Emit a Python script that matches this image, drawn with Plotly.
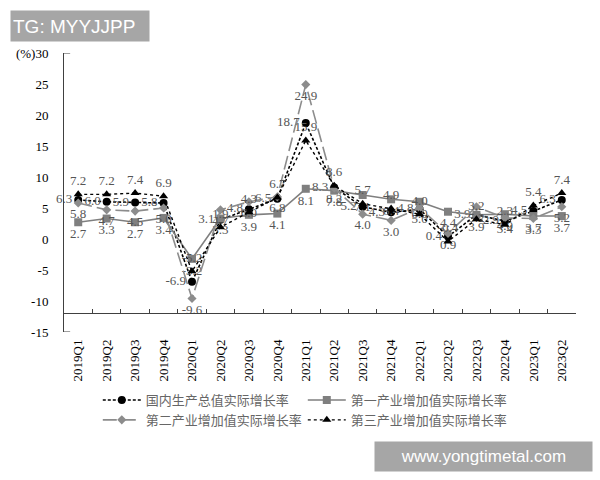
import plotly.graph_objects as go

quarters = ["2019Q1", "2019Q2", "2019Q3", "2019Q4",
            "2020Q1", "2020Q2", "2020Q3", "2020Q4",
            "2021Q1", "2021Q2", "2021Q3", "2021Q4",
            "2022Q1", "2022Q2", "2022Q3", "2022Q4",
            "2023Q1", "2023Q2"]

gdp = [6.3, 6.0, 5.9, 5.8, -6.9, 3.1, 4.8, 6.5, 18.7, 8.3, 5.2, 4.3,
       4.8, 0.4, 3.9, 2.9, 4.5, 6.3]
primary = [2.7, 3.3, 2.7, 3.4, -3.2, 3.3, 3.9, 4.1, 8.1, 7.8, 7.1, 6.4,
           6.0, 4.4, 3.9, 4.0, 3.7, 3.7]
secondary = [5.8, 4.7, 4.5, 5.0, -9.6, 4.7, 6.0, 6.8, 24.9, 8.2, 4.0, 3.0,
             5.0, 0.9, 5.2, 3.4, 3.3, 5.2]
tertiary = [7.2, 7.2, 7.4, 6.9, -5.2, 1.9, 4.3, 6.7, 15.9, 8.6, 5.7, 4.9,
            4.0, -0.4, 3.2, 2.3, 5.4, 7.4]

names = ["国内生产总值实际增长率", "第一产业增加值实际增长率",
         "第二产业增加值实际增长率", "第三产业增加值实际增长率"]

ytick_vals = [30, 25, 20, 15, 10, 5, 0, -5, -10, -15]
ytick_text = ["(%)30", "25", "20", "15", "10", "5", "0", "-5", "-10", "-15"]

label_font = dict(family="Liberation Serif, Times New Roman, serif", size=13, color="#555555")

fig = go.Figure()
fig.add_trace(go.Scatter(
    x=quarters, y=gdp, name=names[0], mode="lines+markers+text", cliponaxis=False,
    line=dict(color="#000000", width=1.6, dash="3px,2px"),
    marker=dict(symbol="circle", size=8, color="#000000"),
    text=[f"{v:.1f}" for v in gdp], textposition="middle left", textfont=label_font))
fig.add_trace(go.Scatter(
    x=quarters, y=primary, name=names[1], mode="lines+markers+text", cliponaxis=False,
    line=dict(color="#7f7f7f", width=1.6),
    marker=dict(symbol="square", size=8, color="#7f7f7f"),
    text=[f"{v:.1f}" for v in primary], textposition="bottom center", textfont=label_font))
fig.add_trace(go.Scatter(
    x=quarters, y=secondary, name=names[2], mode="lines+markers+text", cliponaxis=False,
    line=dict(color="#8c8c8c", width=1.6, dash="14px,5px"),
    marker=dict(symbol="diamond", size=7, color="#8c8c8c"),
    text=[f"{v:.1f}" for v in secondary], textposition="bottom center", textfont=label_font))
fig.add_trace(go.Scatter(
    x=quarters, y=tertiary, name=names[3], mode="lines+markers+text", cliponaxis=False,
    line=dict(color="#000000", width=1.4, dash="dot"),
    marker=dict(symbol="triangle-up", size=8, color="#000000"),
    text=[f"{v:.1f}" for v in tertiary], textposition="top center", textfont=label_font))

fig.update_layout(
    width=600, height=480,
    margin=dict(l=64, r=24, t=53, b=148, autoexpand=False),
    paper_bgcolor="white", plot_bgcolor="white",
    showlegend=True,
    legend=dict(orientation="h", x=0.066, y=-0.19, xanchor="left", yanchor="top",
                entrywidth=152, entrywidthmode="pixels",
                font=dict(family="Noto Sans CJK SC, sans-serif", size=13, color="#666666"),
                tracegroupgap=0, itemwidth=38),
    xaxis=dict(type="category", anchor="free", position=3 / 45, range=[-0.5, 17.5],
               showline=True, linecolor="#404040", linewidth=1,
               ticks="inside", ticklen=4, tickcolor="#404040", tickson="boundaries",
               tickangle=-90, ticklabelstandoff=20, showgrid=False, zeroline=False,
               tickfont=dict(family="Liberation Serif, Times New Roman, serif", size=13, color="#000000")),
    yaxis=dict(range=[-15, 30], tickvals=ytick_vals, ticktext=ytick_text,
               showline=True, linecolor="#404040", linewidth=1,
               showgrid=False, zeroline=False, ticks="", ticklabelstandoff=12,
               tickfont=dict(family="Liberation Serif, Times New Roman, serif", size=13, color="#000000")),
    annotations=[
        dict(text="TG: MYYJJPP", xref="paper", yref="paper", x=-0.105, y=1.154,
             xanchor="left", yanchor="top", showarrow=False, bgcolor="#a6a6a6",
             width=134, height=26, borderpad=2, align="left",
             font=dict(family="Liberation Sans, Arial, sans-serif", size=19, color="white")),
        dict(text="www.yongtimetal.com", xref="paper", yref="paper", x=1.0332, y=-0.391,
             xanchor="right", yanchor="top", showarrow=False, bgcolor="#a6a6a6",
             width=213, height=25, borderpad=2,
             font=dict(family="Liberation Sans, Arial, sans-serif", size=17, color="white")),
    ],
    shapes=[
        dict(type="line", xref="paper", yref="y", x0=0, x1=0.012, y0=30, y1=30,
             line=dict(color="#404040", width=1)),
        dict(type="line", xref="paper", yref="y", x0=0, x1=0.012, y0=-15, y1=-15,
             line=dict(color="#404040", width=1)),
    ],
)

fig.write_html("out.html", config={"displayModeBar": False},
               post_script="document.body.style.margin='0px';")
